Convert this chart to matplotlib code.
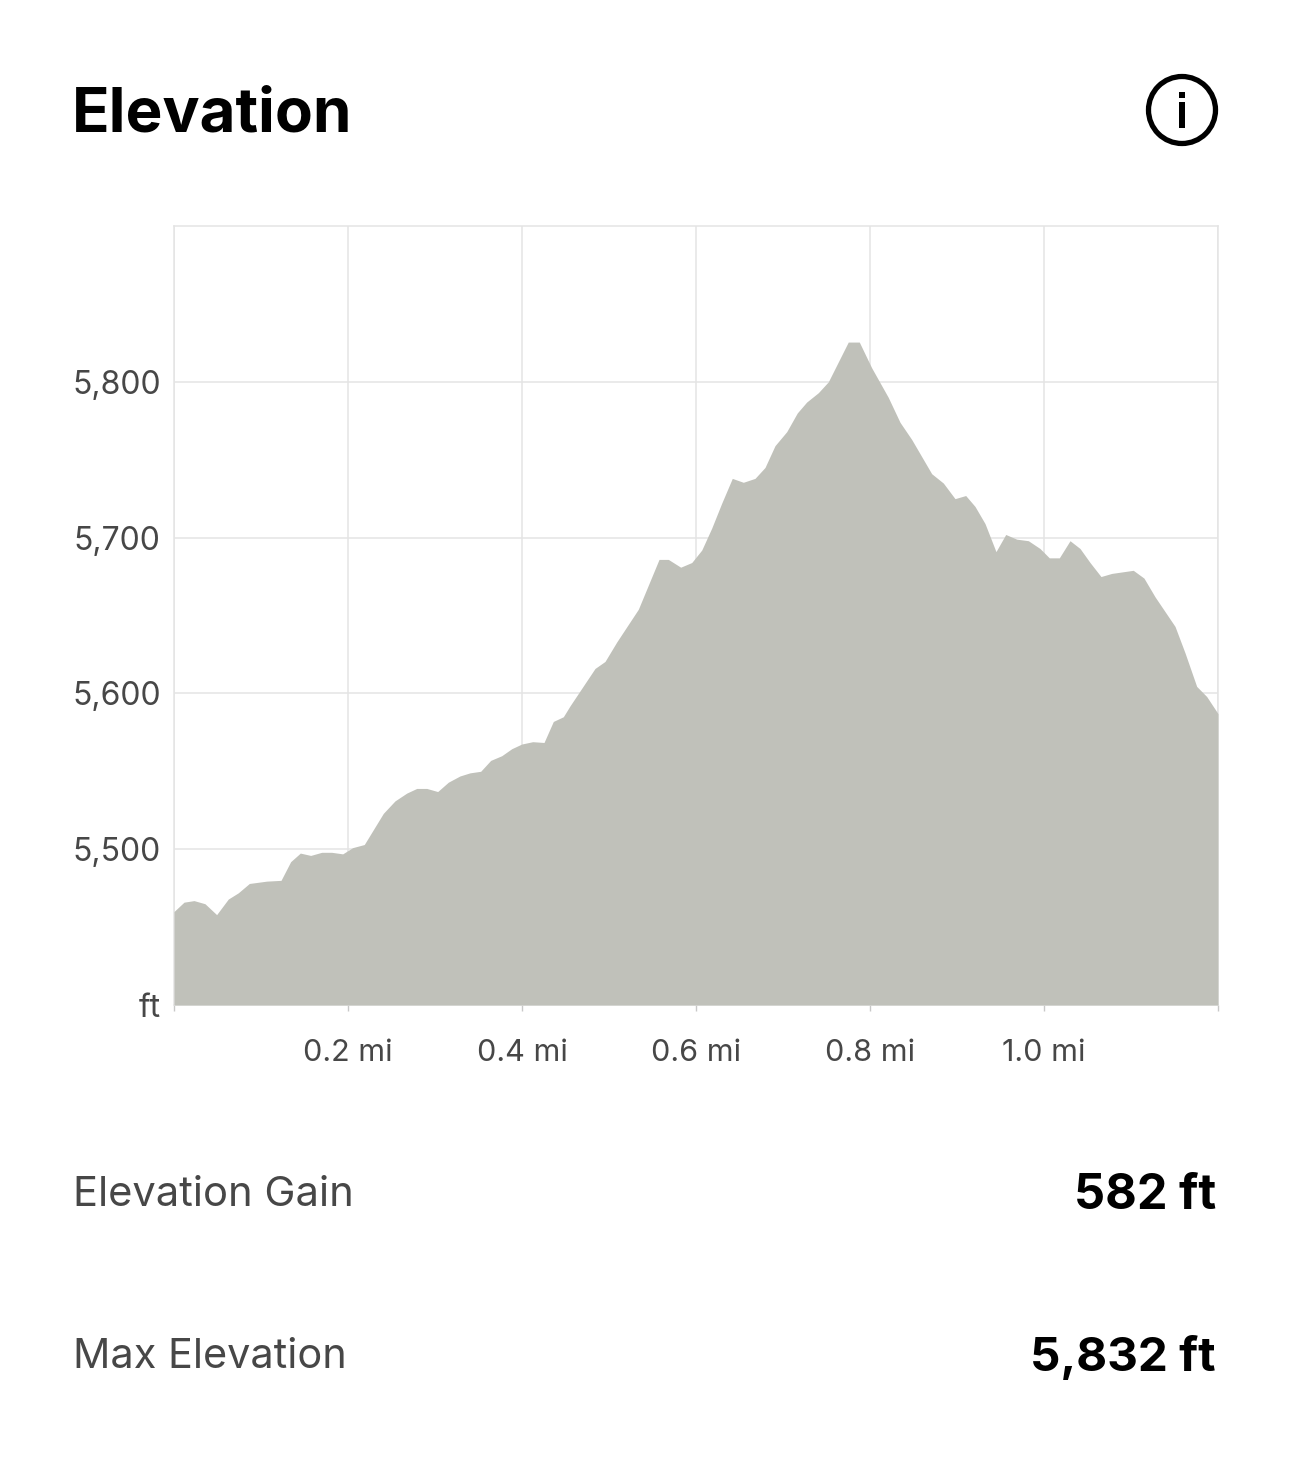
import matplotlib
matplotlib.use('Agg')
import matplotlib.pyplot as plt
from matplotlib.patches import Circle, Rectangle

# profil: distance in miles, elevation in ft
miles = [0.000, 0.0115, 0.023, 0.0356, 0.049, 0.0624, 0.0739, 0.0866, 0.1066, 0.123,
         0.1341, 0.1452, 0.1571, 0.1698, 0.1813, 0.1939, 0.2054, 0.2187, 0.2406, 0.254,
         0.2675, 0.279, 0.2905, 0.3031, 0.3153, 0.3287, 0.3402, 0.3525, 0.364, 0.3767,
         0.3882, 0.3997, 0.4123, 0.4253, 0.436, 0.4475, 0.4552, 0.4839, 0.4954, 0.5089,
         0.5337, 0.5575, 0.5682, 0.5824, 0.5951, 0.6066, 0.618, 0.6295, 0.6417, 0.6544,
         0.6678, 0.6793, 0.6908, 0.7043, 0.7164, 0.7272, 0.7406, 0.7521, 0.775, 0.7877,
         0.8019, 0.821, 0.8345, 0.8479, 0.8709, 0.8843, 0.8977, 0.91, 0.9207, 0.9322,
         0.9448, 0.956, 0.9686, 0.982, 0.9954, 1.0061, 1.0176, 1.0299, 1.0414, 1.0529,
         1.0655, 1.0778, 1.1026, 1.1149, 1.1276, 1.1506, 1.1621, 1.1755, 1.187, 1.2]
elevation = [5460, 5466, 5467, 5465, 5458, 5468, 5472, 5478, 5479.5, 5480,
             5492, 5497.5, 5496, 5498, 5498, 5497, 5501, 5503, 5523, 5531,
             5536, 5539, 5539, 5537, 5543, 5547, 5549, 5550, 5557, 5560,
             5564.5, 5567.5, 5569, 5568.5, 5582, 5585, 5592, 5616, 5620.5, 5633,
             5654, 5686, 5686, 5681, 5684, 5692, 5706, 5722, 5738, 5735.5,
             5738, 5745, 5759, 5768, 5780, 5787, 5793, 5800, 5825.5, 5825.5,
             5809, 5790, 5774, 5763, 5741, 5735, 5725, 5727, 5720, 5709,
             5691, 5702, 5699, 5698, 5693, 5687, 5687, 5698, 5693, 5684,
             5675, 5677, 5679, 5674, 5662, 5643, 5626, 5604.5, 5598, 5587]

y_ticks = [5400, 5500, 5600, 5700, 5800]
y_labels = ['ft', '5,500', '5,600', '5,700', '5,800']
x_ticks = [0, 0.2, 0.4, 0.6, 0.8, 1.0, 1.2]
x_labels = ['', '0.2 mi', '0.4 mi', '0.6 mi', '0.8 mi', '1.0 mi', '']

W, H = 1290, 1469
FONT = 'Inter'
GRID = '#e4e4e4'
GREY = '#474747'

fig = plt.figure(figsize=(W / 100, H / 100), dpi=100, facecolor='white')

# overlay in pixel coordinates for the card text and icon
bg = fig.add_axes([0, 0, 1, 1])
bg.set_xlim(0, W)
bg.set_ylim(H, 0)
bg.axis('off')

bg.text(72, 131, 'Elevation', fontsize=44.6, fontweight='bold', family=FONT, color='black', va='baseline')
bg.add_patch(Circle((1182, 110), 33.5, fill=False, ec='black', lw=3.8))
bg.add_patch(Rectangle((1179, 92), 6, 6, fc='black', ec='none'))
bg.add_patch(Rectangle((1179, 102), 6, 26, fc='black', ec='none'))

bg.text(73, 1206, 'Elevation Gain', fontsize=30, family=FONT, color=GREY, va='baseline')
bg.text(73, 1368, 'Max Elevation', fontsize=29.8, family=FONT, color=GREY, va='baseline')
bg.text(1216, 1209, '582 ft', fontsize=35, fontweight='bold', family=FONT, color='black', ha='right', va='baseline')
bg.text(1216, 1371, '5,832 ft', fontsize=34.3, fontweight='bold', family=FONT, color='black', ha='right', va='baseline')

# chart
ax = fig.add_axes([174 / W, 1 - 1005 / H, (1218 - 174) / W, (1005 - 226) / H])
ax.set_xlim(0, 1.2)
ax.set_ylim(5400, 5900)
ax.fill_between(miles, 5400, elevation, color='#c0c1ba', lw=0, zorder=3)
ax.set_xticks(x_ticks)
ax.set_xticklabels(x_labels, fontsize=22, family=FONT, color=GREY)
ax.set_yticks(y_ticks)
ax.set_yticklabels(y_labels, fontsize=23, family=FONT, color=GREY)
ax.tick_params(axis='x', length=4, width=1, color='#c8c8c8', pad=20.5)
ax.tick_params(axis='y', length=0, pad=9.5)
ax.grid(True, color=GRID, lw=1.1, zorder=1)
ax.set_axisbelow(True)
for s in ax.spines.values():
    s.set_color(GRID)
    s.set_linewidth(1.1)

fig.savefig('out.png', dpi=100)
